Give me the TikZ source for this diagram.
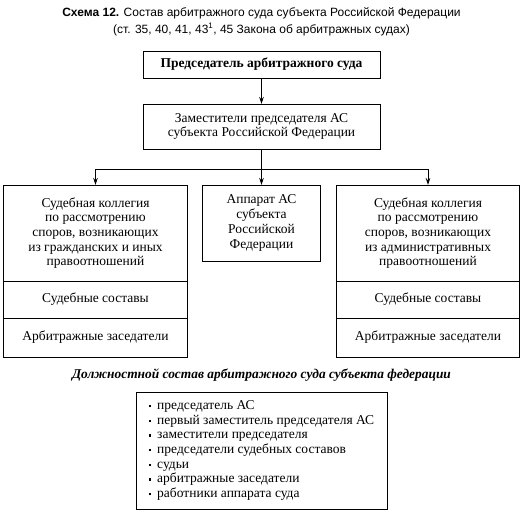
\documentclass[tikz,border=0pt]{standalone}
\usepackage{fontspec}
\setmainfont{Liberation Serif}
\newfontfamily\headfont{Liberation Sans}
\usetikzlibrary{positioning, arrows.meta}

\newcommand{\itm}{\raisebox{0.35ex}{\rule{2.4pt}{2.4pt}}\hspace{6pt}}

\begin{document}
\begin{tikzpicture}[x=1pt, y=1pt, line width=0.8pt,
  >={Stealth[length=7pt,width=4.5pt]},
  box node/.style={draw, rectangle, outer sep=0pt, inner sep=3pt, align=center,
    font=\fontsize{13.5}{14.7}\selectfont},
  head node/.style={align=center, font=\headfont\fontsize{12}{17}\selectfont}]

\useasboundingbox (0,0) rectangle (523,-515);

\node[head node] (title) at (261.5,-21.5)
  {\textbf{Схема 12.} Состав арбитражного суда субъекта Российской Федерации\\
   (ст. 35, 40, 41, 43\textsuperscript{1}, 45 Закона об арбитражных судах)};

\node[box node, minimum width=237pt, minimum height=27pt] (chair) at (261.5,-64.5)
  {\textbf{Председатель арбитражного суда}};
\node[box node, minimum width=237pt, minimum height=45pt, below=26pt of chair] (dep)
  {Заместители председателя АС\\субъекта Российской Федерации};

\node[box node, minimum width=118pt, minimum height=76pt, below=36pt of dep] (app)
  {Аппарат АС\\субъекта\\Российской\\Федерации};

\node[box node, minimum width=184pt, minimum height=96pt,
  left=15pt of app.north west, anchor=north east] (lcol)
  {Судебная коллегия\\по рассмотрению\\споров, возникающих\\из гражданских и иных\\правоотношений};
\node[box node, minimum width=184pt, minimum height=37pt, below=0pt of lcol] (lsost)
  {Судебные составы};
\node[box node, minimum width=184pt, minimum height=39pt, below=0pt of lsost] (lzas)
  {Арбитражные заседатели};

\node[box node, minimum width=183pt, minimum height=96pt,
  right=16pt of app.north east, anchor=north west] (rcol)
  {Судебная коллегия\\по рассмотрению\\споров, возникающих\\из административных\\правоотношений};
\node[box node, minimum width=183pt, minimum height=37pt, below=0pt of rcol] (rsost)
  {Судебные составы};
\node[box node, minimum width=183pt, minimum height=39pt, below=0pt of rsost] (rzas)
  {Арбитражные заседатели};

\coordinate (fork) at ([yshift=-20pt]dep.south);

\draw[->] (chair) -- (dep);
\draw (dep) -- (fork);
\draw[->] (fork) -| (lcol);
\draw[->] (fork) -| (rcol);
\draw[->] (fork) -- (app);

\node[font=\bfseries\itshape\fontsize{13.4}{14.7}\selectfont] (staff) at (261.5,-375)
  {Должностной состав арбитражного суда субъекта федерации};
\node[box node, align=left, minimum width=251pt, minimum height=117pt,
  below=7pt of staff] (list)
  {\itm председатель АС\\
   \itm первый заместитель председателя АС\\
   \itm заместители председателя\\
   \itm председатели судебных составов\\
   \itm судьи\\
   \itm арбитражные заседатели\\
   \itm работники аппарата суда};

\end{tikzpicture}
\end{document}
